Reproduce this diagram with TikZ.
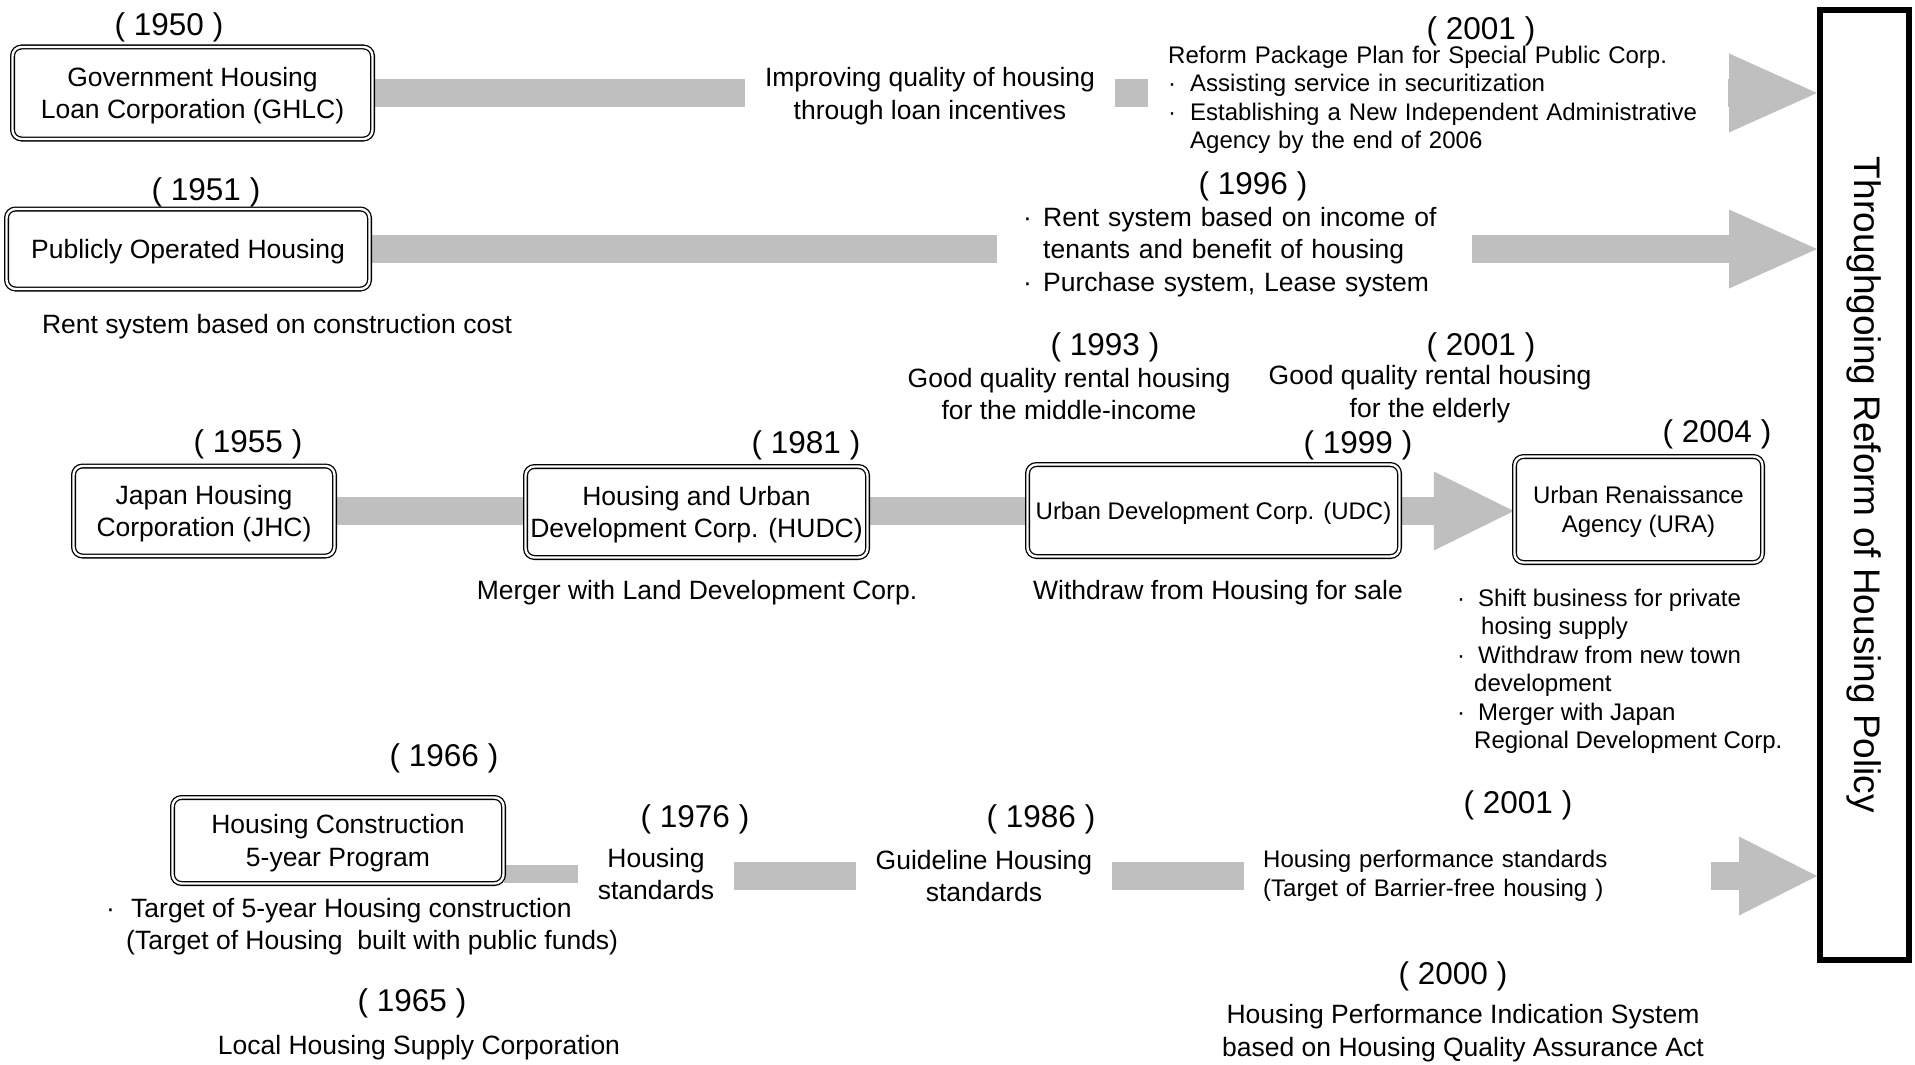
\documentclass[tikz,border=0pt]{standalone}
\usepackage{fontspec}
\setmainfont{Liberation Sans}
\usetikzlibrary{arrows.meta,backgrounds}
\definecolor{bargray}{HTML}{BFBFBF}
\begin{document}
\begin{tikzpicture}[x=1pt, y=-1pt,
    corp/.style={draw, double, double distance=2.4pt, line width=1.3pt, rounded corners=9pt,
      fill=white, align=center, inner sep=0pt, font=\fmain, text depth=0pt},
    txt/.style={align=center, inner sep=0pt, font=\fmain, yshift=-3pt},
    list/.style={anchor=west, align=left, inner sep=0pt, yshift=-3pt},
    yr/.style={inner sep=0pt, font=\fyear, yshift=-3pt},
    bar/.style={draw=bargray, line width=28pt},
    arr/.style={bar, -{Triangle[length=#1, width=79pt, line width=0pt]}},
    arr/.default=88pt]
    % font sizes
    \def\fmain{\fontsize{26.5}{32.5}\selectfont}
    \def\fsmall{\fontsize{24}{28.5}\selectfont}
    \def\fyear{\fontsize{31.5}{36}\selectfont}
    \def\bul#1{\makebox[#1][l]{·}}
    \useasboundingbox (0,0) rectangle (1915,1065);

    % final box on the right
    \node[draw, line width=6pt, minimum width=89pt, minimum height=950pt, inner sep=0pt,
      font=\fontsize{37}{44}\selectfont] (policy) at (1864.5,485)
      {\rotatebox{-90}{Throughgoing Reform of Housing Policy}};

    % row 1: GHLC
    \node[corp, minimum width=360pt, minimum height=92pt] (ghlc) at (192.5,93) {Government Housing\\Loan Corporation (GHLC)};
    \node[yr] (y1950) at (169,24) {( 1950 )};
    \node[txt, minimum width=370pt] (impr) at (930,93) {Improving quality of housing\\through loan incentives};
    \node[yr] (y2001a) at (1481,28) {( 2001 )};
    \node[list, font=\fsmall, text width=540pt, inner xsep=20pt] (reform) at (1148,97)
      {Reform Package Plan for Special Public Corp.\\\bul{22pt}Assisting service in securitization\\\bul{22pt}Establishing a New Independent Administrative\\\hspace*{22pt}Agency by the end of 2006};
    \begin{scope}[on background layer]
      \fill[white] (0,0) rectangle (1915,1065);
      \draw[bar] (ghlc.east) -- (ghlc.east -| impr.west);
      \draw[bar] (ghlc.east -| impr.east) -- (ghlc.east -| reform.west);
      \draw[arr] (ghlc.east -| reform.east) -- (ghlc.east -| policy.west);
    \end{scope}

    % row 2: public housing
    \node[corp, minimum width=363pt, minimum height=80pt] (poh) at (188,249) {Publicly Operated Housing};
    \node[yr] (y1951) at (206,189) {( 1951 )};
    \node[txt] (rentcost) at (277,324) {Rent system based on construction cost};
    \node[yr] (y1996) at (1253,183) {( 1996 )};
    \node[list, font=\fmain, text width=423pt, inner xsep=26pt] (rentinc) at (997,249)
      {\bul{20pt}Rent system based on income of\\\hspace*{20pt}tenants and benefit of housing\\\bul{20pt}Purchase system, Lease system};
    \begin{scope}[on background layer]
      \draw[bar] (poh.east) -- (poh.east -| rentinc.west);
      \draw[arr] (poh.east -| rentinc.east) -- (poh.east -| policy.west);
    \end{scope}

    % row 3: JHC -> HUDC -> UDC -> URA
    \node[yr] (y1993) at (1105,344) {( 1993 )};
    \node[txt] (good1) at (1069,391) {Good quality rental housing\\for the middle-income};
    \node[yr] (y2001b) at (1481,344) {( 2001 )};
    \node[txt] (good2) at (1430,391) {Good quality rental housing\\for the elderly};
    \node[corp, minimum width=261pt, minimum height=90pt] (jhc) at (204,511) {Japan Housing\\Corporation (JHC)};
    \node[yr] (y1955) at (248,441) {( 1955 )};
    \node[corp, minimum width=342pt, minimum height=91pt] (hudc) at (696.5,512) {Housing and Urban\\Development Corp. (HUDC)};
    \node[yr] (y1981) at (806,442) {( 1981 )};
    \node[corp, font=\fsmall, minimum width=372pt, minimum height=92pt] (udc) at (1213.5,510.5) {Urban Development Corp. (UDC)};
    \node[yr] (y1999) at (1358,442) {( 1999 )};
    \node[corp, font=\fsmall, minimum width=248pt, minimum height=106pt] (ura) at (1638.5,509.5) {Urban Renaissance\\Agency (URA)};
    \node[yr] (y2004) at (1717,431) {( 2004 )};
    \node[txt] (merger) at (697,590) {Merger with Land Development Corp.};
    \node[txt] (withdraw) at (1218,590) {Withdraw from Housing for sale};
    \node[list, font=\fsmall] (urabul) at (1457,668.5)
      {\bul{21pt}Shift business for private\\\hspace*{24pt}hosing supply\\\bul{21pt}Withdraw from new town\\\hspace*{17pt}development\\\bul{21pt}Merger with Japan\\\hspace*{17pt}Regional Development Corp.};
    \begin{scope}[on background layer]
      \draw[bar] (jhc.east) -- (jhc.east -| hudc.west);
      \draw[bar] (jhc.east -| hudc.east) -- (jhc.east -| udc.west);
      \draw[arr=80pt] (jhc.east -| udc.east) -- (jhc.east -| ura.west);
    \end{scope}

    % row 4: housing standards
    \node[corp, minimum width=331pt, minimum height=86pt] (hc5) at (338,840.5) {Housing Construction\\5-year Program};
    \node[yr] (y1966) at (444,755) {( 1966 )};
    \node[list, font=\fmain] (target) at (106,923.5)
      {\bul{25pt}Target of 5-year Housing construction\\\hspace*{20pt}(Target of Housing\ \ built with public funds)};
    \node[yr] (y1965) at (412,1000) {( 1965 )};
    \node[txt] (local) at (419,1045) {Local Housing Supply Corporation};
    \node[txt, minimum width=156pt] (hstd) at (656,871) {Housing\\standards};
    \node[yr] (y1976) at (695,816) {( 1976 )};
    \node[txt, minimum width=256pt] (guide) at (984,873) {Guideline Housing\\standards};
    \node[yr] (y1986) at (1041,816) {( 1986 )};
    \node[list, font=\fsmall, text width=429pt, inner xsep=19pt] (hperf) at (1244,873)
      {Housing performance standards\\(Target of Barrier-free housing )};
    \node[yr] (y2001c) at (1518,802) {( 2001 )};
    \node[yr] (y2000) at (1453,973) {( 2000 )};
    \node[txt] (hpis) at (1463,1030) {Housing Performance Indication System\\based on Housing Quality Assurance Act};
    \begin{scope}[on background layer]
      \draw[bar, line width=18pt] (hstd.west) -- (hstd.west -| hc5.east);
      \draw[bar] (guide.west) -- (guide.west -| hstd.east);
      \draw[bar] (guide.east) -- (guide.east -| hperf.west);
      \draw[arr=78pt] (guide.east -| hperf.east) -- (guide.east -| policy.west);
    \end{scope}
\end{tikzpicture}
\end{document}
